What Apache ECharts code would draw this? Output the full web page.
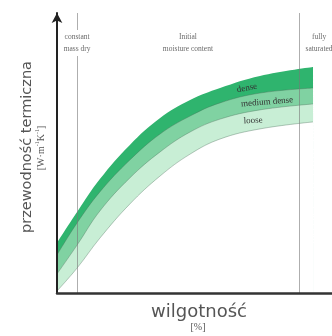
<!DOCTYPE html>
<html>
<head>
<meta charset="utf-8">
<script src="https://cdn.jsdelivr.net/npm/echarts@6/dist/echarts.min.js"></script>
<style>
  html, body { margin: 0; padding: 0; background: #fff; }
  #chart { width: 332px; height: 336px; }
</style>
</head>
<body>
<div id="chart"></div>
<script>
// Moisture content sample positions (horizontal axis, %)
const moisture = [0, 7.3, 15.6, 26.5, 37.5, 48.4, 59.3, 73.8, 93.1];
// Upper edge of the dense band
const denseTop = [17.9, 28.9, 40.7, 52.9, 62.5, 68.9, 73.2, 77.5, 80.7];
// Boundary between dense and medium dense
const mediumTop = [13.6, 25.0, 36.1, 47.5, 56.8, 63.2, 67.9, 71.4, 73.2];
// Boundary between medium dense and loose
const looseTop = [6.8, 17.1, 29.3, 41.1, 50.4, 57.5, 62.1, 65.4, 67.5];
// Lower edge of the loose band
const looseBottom = [0.7, 8.9, 19.6, 31.8, 41.8, 49.6, 55.0, 58.6, 61.1];

const bandNames = ['dense', 'medium dense', 'loose'];
// Moisture states marked by vertical reference lines
const stateLines = [7.3, 88];
const stateNames = ['constant\nmass dry', 'Initial\nmoisture content', 'fully\nsaturated'];

const xTitle = 'wilgotność';
const xUnit = '[%]';
const yTitle = 'przewodność termiczna';

const DARK = '#2fb46e';
const MID = '#80d2a2';
const LIGHT = '#c8eed5';

const chart = echarts.init(document.getElementById('chart'), null, { renderer: 'canvas' });

function pairs(ys) {
  return moisture.map((x, i) => [x, ys[i]]);
}

const edge = { color: 'rgba(70,105,85,0.45)', width: 0.8 };

function band(ys, fill, line) {
  return {
    type: 'line',
    data: pairs(ys),
    smooth: 0.4,
    symbol: 'none',
    silent: true,
    lineStyle: line || { opacity: 0 },
    areaStyle: { color: fill, opacity: 1 }
  };
}

const series = [
  band(denseTop, DARK),
  band(mediumTop, MID, edge),
  band(looseTop, LIGHT, edge),
  band(looseBottom, '#ffffff', edge)
];
series[3].markLine = {
  silent: true,
  symbol: 'none',
  label: { show: false },
  lineStyle: { color: 'rgba(120,120,120,0.6)', width: 1, type: 'solid' },
  data: stateLines.map(v => ({ xAxis: v }))
};

chart.setOption({
  animation: false,
  backgroundColor: '#ffffff',
  grid: { left: 57, right: 0, top: 13, bottom: 43, containLabel: false },
  xAxis: {
    type: 'value', min: 0, max: 100, z: 10,
    axisLine: { show: true, onZero: false, lineStyle: { color: '#333', width: 2.5 } },
    axisTick: { show: false }, axisLabel: { show: false }, splitLine: { show: false }
  },
  yAxis: {
    type: 'value', min: 0, max: 100, z: 10,
    axisLine: {
      show: true, onZero: false,
      symbol: ['none', 'arrow'], symbolSize: [8, 10],
      lineStyle: { color: '#222', width: 2 }
    },
    axisTick: { show: false }, axisLabel: { show: false }, splitLine: { show: false }
  },
  series: series
});

// Text annotations placed from data coordinates
function px(x, y) {
  return chart.convertToPixel({ gridIndex: 0 }, [x, y]);
}

const serif = 'Liberation Serif, DejaVu Serif, serif';
const sans = 'DejaVu Sans, sans-serif';
const topY = 30;

const stateCenters = [stateLines[0], 47.6, 95.3];
const graphics = stateNames.map((t, i) => ({
  type: 'text',
  x: px(stateCenters[i], 0)[0],
  y: topY,
  z: 20,
  style: {
    text: t,
    font: '7.5px ' + serif,
    fill: '#6a6a6a',
    align: 'center',
    verticalAlign: 'top',
    lineHeight: 12,
    backgroundColor: i === 0 ? '#ffffff' : null,
    padding: [1, 1]
  }
}));

// band labels, sitting just above the lower edge of each band
const bandLabelSpots = [[69.1, 73.2, 0.18], [76.4, 68.2, 0.08], [71.3, 61.6, 0.04]];
bandNames.forEach((name, i) => {
  const p = px(bandLabelSpots[i][0], bandLabelSpots[i][1]);
  graphics.push({
    type: 'text', x: p[0], y: p[1], rotation: bandLabelSpots[i][2], z: 20,
    style: { text: name, font: '9px ' + serif, fill: '#333', align: 'center', verticalAlign: 'middle' }
  });
});

// axis titles
graphics.push({
  type: 'text', x: 199, y: 312, z: 20,
  style: { text: xTitle, font: '18px ' + sans, fill: '#555', align: 'center', verticalAlign: 'middle' }
});
graphics.push({
  type: 'text', x: 198, y: 327, z: 20,
  style: { text: xUnit, font: '10px ' + serif, fill: '#555', align: 'center', verticalAlign: 'middle' }
});
graphics.push({
  type: 'text', x: 27, y: 147, rotation: Math.PI / 2, z: 20,
  style: { text: yTitle, font: '14.5px ' + sans, fill: '#555', align: 'center', verticalAlign: 'middle' }
});
graphics.push({
  type: 'text', x: 40, y: 148, rotation: Math.PI / 2, z: 20,
  style: {
    text: '{a|[W·m}{s|-1}{a|K}{s|-1}{a|]}',
    align: 'center', verticalAlign: 'middle',
    rich: {
      a: { font: '10px ' + serif, fill: '#555', lineHeight: 12, verticalAlign: 'bottom' },
      s: { font: '6px ' + serif, fill: '#555', lineHeight: 12, verticalAlign: 'top' }
    }
  }
});

chart.setOption({ graphic: graphics });
</script>
</body>
</html>
